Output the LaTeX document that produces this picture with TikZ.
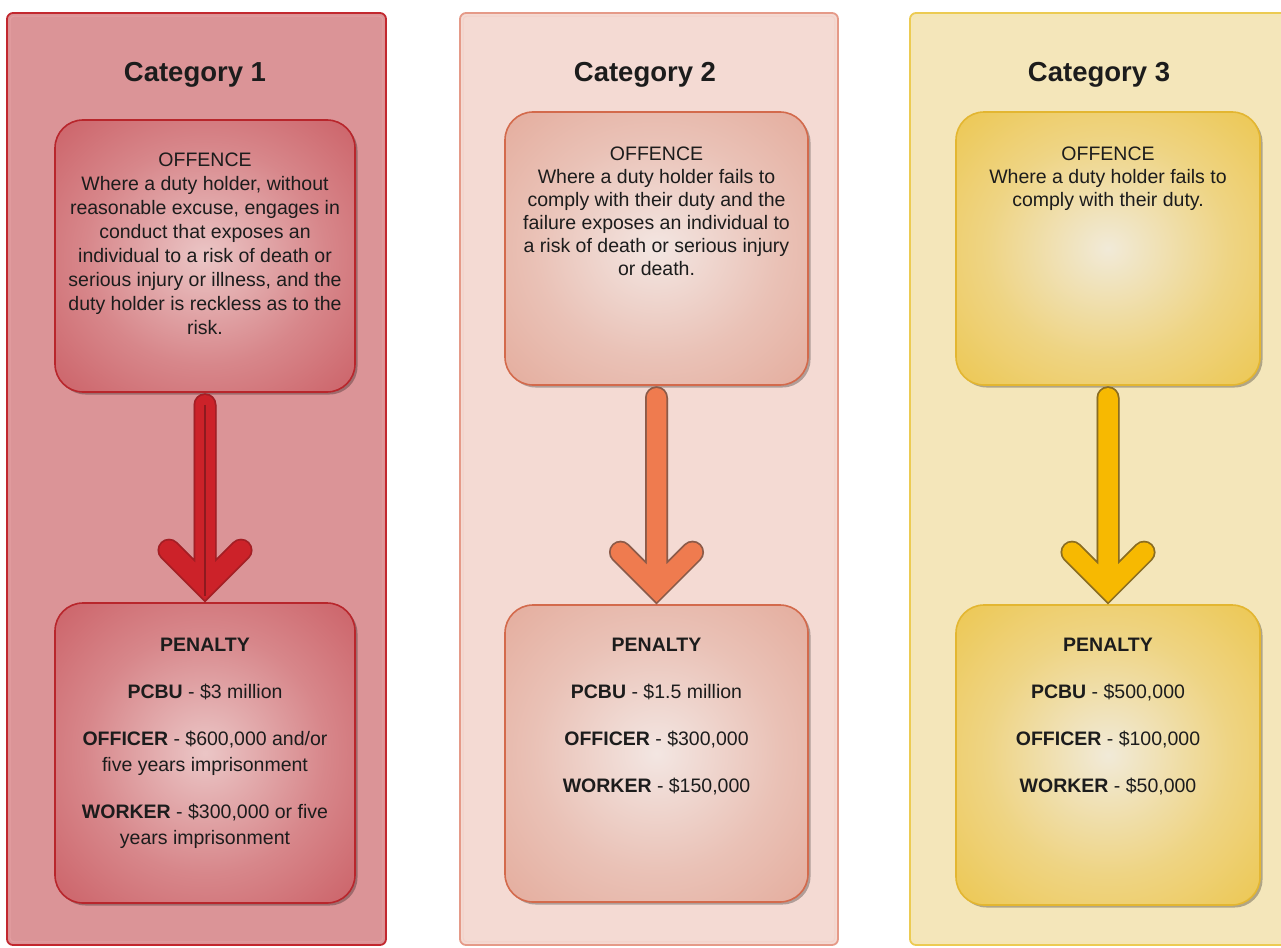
\documentclass[tikz,border=0pt]{standalone}
\usepackage{fontspec}
\setmainfont{Liberation Sans}
\usetikzlibrary{shadows,calc}
\definecolor{txt}{HTML}{1C1C1C}
% category 1
\definecolor{p1fill}{HTML}{DB9497}
\definecolor{p1edge}{HTML}{C2282F}
\definecolor{b1in}{HTML}{EBC6C6}
\definecolor{b1out}{HTML}{C7535A}
\definecolor{b1edge}{HTML}{B8262C}
\definecolor{a1fill}{HTML}{CC2229}
\definecolor{a1edge}{HTML}{A51E24}
\definecolor{a1line}{HTML}{8E1A1F}
% category 2
\definecolor{p2fill}{HTML}{F4DAD3}
\definecolor{p2edge}{HTML}{E59A88}
\definecolor{b2in}{HTML}{F3E6E2}
\definecolor{b2out}{HTML}{E2A493}
\definecolor{b2edge}{HTML}{D36A4C}
\definecolor{a2fill}{HTML}{EF7B4F}
\definecolor{a2edge}{HTML}{8C5A48}
% category 3
\definecolor{p3fill}{HTML}{F4E6BA}
\definecolor{p3edge}{HTML}{ECCB52}
\definecolor{b3in}{HTML}{F1EAD8}
\definecolor{b3out}{HTML}{ECC23E}
\definecolor{b3edge}{HTML}{E3B631}
\definecolor{a3fill}{HTML}{F7B901}
\definecolor{a3edge}{HTML}{8B6D20}
\pgfdeclareradialshading{pillowA}{\pgfpoint{0bp}{0bp}}{color(0bp)=(b1in); color(20bp)=(b1in!45!b1out); color(42bp)=(b1out); color(50bp)=(b1out)}
\pgfdeclareradialshading{pillowB}{\pgfpoint{0bp}{0bp}}{color(0bp)=(b2in); color(20bp)=(b2in!45!b2out); color(42bp)=(b2out); color(50bp)=(b2out)}
\pgfdeclareradialshading{pillowC}{\pgfpoint{0bp}{0bp}}{color(0bp)=(b3in); color(20bp)=(b3in!45!b3out); color(42bp)=(b3out); color(50bp)=(b3out)}
\newcommand\drawcatarrow[4]{%
  % #1 from node, #2 to node, #3 fill colour, #4 outline colour
  \coordinate (#1-s) at ($(#1.south)+(0,12)$);
  \coordinate (#1-t) at ($(#2.north)+(0,-16)$);
  \draw[arrpath, line width=23pt, black, opacity=0.22, shift={(2.5,2.5)}]
    (#1-s) -- (#1-t) (#1-t) ++(-36,-36) -- (#1-t) -- ++(36,-36);
  \draw[arrpath, line width=23pt, #4]
    (#1-s) -- (#1-t) (#1-t) ++(-36,-36) -- (#1-t) -- ++(36,-36);
  \draw[arrpath, line width=19.5pt, #3]
    (#1-s) -- (#1-t) (#1-t) ++(-36,-36) -- (#1-t) -- ++(36,-36);
}
\begin{document}
\begin{tikzpicture}[x=1pt,y=-1pt,
  panel/.style={draw, line width=1.8pt, rounded corners=6pt, inner sep=0pt},
  box/.style={rectangle, rounded corners=28pt, line width=1.6pt, minimum width=300pt, inner sep=0pt,
    drop shadow={shadow xshift=2.5pt, shadow yshift=-2.5pt, opacity=0.28, fill=black}},
  title/.style={font=\fontsize{27.5}{31}\selectfont\bfseries, text=txt, anchor=north, inner sep=0pt},
  offtext/.style={font=\fontsize{19.5}{24}\selectfont, align=center, text=txt, anchor=north, inner sep=0pt},
  pentext/.style={font=\fontsize{19.5}{26}\selectfont, align=center, text=txt, anchor=north, inner sep=0pt},
  arrpath/.style={line cap=round, line join=miter},
]
\useasboundingbox (0,0) rectangle (1281,947);
\fill[white] (0,0) rectangle (1281,947);
\clip (0,0) rectangle (1281,947);

% panels
\node[panel, fill=p1fill, draw=p1edge, minimum width=379pt, minimum height=932pt] (pan1) at (196.5,479) {};
\node[panel, fill=p2fill, draw=p2edge, minimum width=378pt, minimum height=932pt] (pan2) at (649,479) {};
\node[panel, fill=p3fill, draw=p3edge, minimum width=385pt, minimum height=932pt] (pan3) at (1102.5,479) {};
\foreach \p/\c in {pan1/p1edge, pan2/p2edge, pan3/p3edge}{
  \draw[\c!45, line width=1pt, rounded corners=4pt] ($(\p.north west)+(4,4)$) rectangle ($(\p.south east)+(-4,-4)$);
}

% titles
\node[title] (t1) at (195,62) {Category 1};
\node[title] (t2) at (645,62) {Category 2};
\node[title] (t3) at (1099,62) {Category 3};

% boxes
\node[box, draw=b1edge, shading=pillowA, minimum height=272pt] (off1) at (205,256) {};
\node[box, draw=b1edge, shading=pillowA, minimum height=300pt] (pen1) at (205,753) {};
\node[box, draw=b2edge, shading=pillowB, minimum width=303pt, minimum height=273pt] (off2) at (656.5,248.5) {};
\node[box, draw=b2edge, shading=pillowB, minimum width=303pt, minimum height=297pt] (pen2) at (656.5,753.5) {};
\node[box, draw=b3edge, shading=pillowC, minimum width=304pt, minimum height=273pt] (off3) at (1108,248.5) {};
\node[box, draw=b3edge, shading=pillowC, minimum width=304pt, minimum height=300pt] (pen3) at (1108,755) {};

% arrows
\drawcatarrow{off1}{pen1}{a1fill}{a1edge}
\draw[a1line, line width=1.3pt] (off1-s) -- ($(off1-t)+(0,10)$);
\drawcatarrow{off2}{pen2}{a2fill}{a2edge}
\drawcatarrow{off3}{pen3}{a3fill}{a3edge}

% offence texts
\node[offtext] (o1) at (205,153) {OFFENCE\\Where a duty holder, without\\reasonable excuse, engages in\\conduct that exposes an\\individual to a risk of death or\\serious injury or illness, and the\\duty holder is reckless as to the\\risk.};
\node[offtext, font=\fontsize{19.5}{23}\selectfont] (o2) at (656.5,147) {OFFENCE\\Where a duty holder fails to\\comply with their duty and the\\failure exposes an individual to\\a risk of death or serious injury\\or death.};
\node[offtext, font=\fontsize{19.5}{23}\selectfont] (o3) at (1108,147) {OFFENCE\\Where a duty holder fails to\\comply with their duty.};

% penalty texts
\node[pentext] (q1) at (205,638) {\textbf{PENALTY}\\[21pt]\textbf{PCBU} - \$3 million\\[21pt]\textbf{OFFICER} - \$600,000 and/or\\five years imprisonment\\[21pt]\textbf{WORKER} - \$300,000 or five\\years imprisonment};
\node[pentext] (q2) at (656.5,638) {\textbf{PENALTY}\\[21pt]\textbf{PCBU} - \$1.5 million\\[21pt]\textbf{OFFICER} - \$300,000\\[21pt]\textbf{WORKER} - \$150,000};
\node[pentext] (q3) at (1108,638) {\textbf{PENALTY}\\[21pt]\textbf{PCBU} - \$500,000\\[21pt]\textbf{OFFICER} - \$100,000\\[21pt]\textbf{WORKER} - \$50,000};
\end{tikzpicture}
\end{document}
